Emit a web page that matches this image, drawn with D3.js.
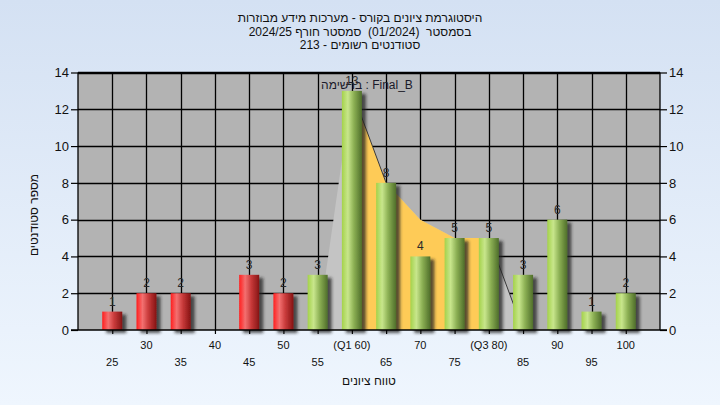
<!DOCTYPE html>
<html><head><meta charset="utf-8">
<script src="https://cdnjs.cloudflare.com/ajax/libs/d3/7.8.5/d3.min.js"></script>
<style>
html,body{margin:0;padding:0;}
body{width:720px;height:405px;overflow:hidden;}
text{font-family:"Liberation Sans",Arial,sans-serif;}
</style></head>
<body>
<svg id="chart" width="720" height="405"></svg>
<script>
const categories = [25,30,35,40,45,50,55,60,65,70,75,80,85,90,95,100];
const tickLabels = ["25","30","35","40","45","50","55","(Q1 60)","65","70","75","(Q3 80)","85","90","95","100"];
const counts = [1,2,2,0,3,2,3,13,8,4,5,5,3,6,1,2];
const passMark = 55;
const curveCats = [55,60,65,70,75,80,85];
const curveValues = [0,13,8,6,5,5,0];
const q1 = 60, q3 = 80;
const yTicks = [0,2,4,6,8,10,12,14];
const titleLines = ["היסטוגרמת ציונים בקורס - מערכות מידע מבוזרות","בסמסטר  (01/2024)  סמסטר חורף 2024/25","סטודנטים רשומים - 213"];
const seriesLabel = "ברשימה : Final_B";
const xTitle = "טווח ציונים";
const yTitle = "מספר סטודנטים";

const svg = d3.select("#chart");
const W = 720, H = 405;
const L = 78, R = 660, T = 72.5, B = 330;
const x = d3.scaleLinear().domain([20,105]).range([L,R]);
const y = d3.scaleLinear().domain([0,14]).range([B,T]);

const defs = svg.append("defs");
const bg = defs.append("linearGradient").attr("id","bg").attr("x1",0).attr("y1",0).attr("x2",0).attr("y2",1);
bg.append("stop").attr("offset","0%").attr("stop-color","#d4e1f3");
bg.append("stop").attr("offset","100%").attr("stop-color","#eff6fe");
function cyl(id, c0, c1, c2, c3){
  const g = defs.append("linearGradient").attr("id",id).attr("x1",0).attr("y1",0).attr("x2",1).attr("y2",0);
  g.append("stop").attr("offset","0%").attr("stop-color",c0);
  g.append("stop").attr("offset","30%").attr("stop-color",c1);
  g.append("stop").attr("offset","60%").attr("stop-color",c2);
  g.append("stop").attr("offset","100%").attr("stop-color",c3);
}
cyl("red","#ff1e1e","#f37070","#c83a3a","#851414");
cyl("green","#a4d24a","#c8e68c","#8cb054","#4f6e2a");
const f = defs.append("filter").attr("id","sh").attr("x","-50%").attr("y","-50%").attr("width","200%").attr("height","200%");
f.append("feDropShadow").attr("dx",4).attr("dy",3).attr("stdDeviation",1.8).attr("flood-color","#202020").attr("flood-opacity",0.75);

svg.append("rect").attr("width",W).attr("height",H).attr("fill","url(#bg)");
svg.append("rect").attr("x",L).attr("y",T).attr("width",R-L).attr("height",B-T).attr("fill","#b3b3b3");

// gridlines
svg.append("g").selectAll("line.h").data(yTicks.filter(v=>v>0)).join("line")
  .attr("x1",L).attr("x2",R).attr("y1",d=>Math.round(y(d))+0.5).attr("y2",d=>Math.round(y(d))+0.5)
  .attr("stroke","#000").attr("stroke-width",1.3);
svg.append("g").selectAll("line.v").data(categories).join("line")
  .attr("x1",d=>Math.round(x(d))+0.5).attr("x2",d=>Math.round(x(d))+0.5).attr("y1",T).attr("y2",B)
  .attr("stroke","#000").attr("stroke-width",1.3);

// curve area
const pts = curveCats.map((c,i)=>({c, v:curveValues[i]}));
const area = d3.area().x(d=>x(d.c)).y0(y(0)).y1(d=>y(d.v));
svg.append("path").datum(pts).attr("d",area).attr("fill","#c4c4c4");
svg.append("path").datum(pts.filter(d=>d.c>=q1 && d.c<=q3)).attr("d",area).attr("fill","#fecb57");
const line = d3.line().x(d=>x(d.c)).y(d=>y(d.v));
svg.append("path").datum(pts.filter(d=>d.c>=60 && d.c<=65)).attr("d",line).attr("fill","none").attr("stroke","#3a3a3a").attr("stroke-width",1);
svg.append("path").datum(pts.filter(d=>d.c>=80 && d.c<=85)).attr("d",line).attr("fill","none").attr("stroke","#3a3a3a").attr("stroke-width",1);

// bars
const bw = 20;
const bars = categories.map((c,i)=>({c, v:counts[i]}));
svg.append("g").selectAll("rect").data(bars.filter(d=>d.v>0)).join("rect")
  .attr("x",d=>x(d.c)-bw/2).attr("width",bw)
  .attr("y",d=>y(d.v)).attr("height",d=>y(0)-y(d.v))
  .attr("fill",d=>d.c>=passMark?"url(#green)":"url(#red)")
  .attr("filter","url(#sh)");

// series label
svg.append("text").attr("x",367).attr("y",89).attr("text-anchor","middle")
  .attr("font-size",12).attr("fill","#1a1a2a").text(seriesLabel);

// value labels
svg.append("g").selectAll("text").data(bars.filter(d=>d.v>0)).join("text")
  .attr("x",d=>x(d.c)).attr("y",d=>y(d.v)-6).attr("text-anchor","middle")
  .attr("font-size",12).attr("fill","#2a2a2a").text(d=>d.v);

// axes
const ax = svg.append("g").attr("transform",`translate(${L},0)`)
  .call(d3.axisLeft(y).tickValues(yTicks).tickSize(7).tickPadding(2).tickFormat(d3.format("d")));
const axr = svg.append("g").attr("transform",`translate(${R},0)`)
  .call(d3.axisRight(y).tickValues(yTicks).tickSize(7).tickPadding(2).tickFormat(d3.format("d")));
[ax,axr].forEach(a=>{a.select(".domain").attr("stroke","#000").attr("stroke-width",1.3).attr("d",`M0,${T}V${B}`);
  a.selectAll("line").attr("stroke","#000").attr("stroke-width",1.2);
  a.selectAll("text").attr("font-size",13).attr("fill","#111").attr("font-family","Liberation Sans, Arial, sans-serif");});
svg.append("line").attr("x1",L).attr("x2",R).attr("y1",T).attr("y2",T).attr("stroke","#000").attr("stroke-width",1.3);

const axb = svg.append("g").attr("transform",`translate(0,${B})`)
  .call(d3.axisBottom(x).tickValues(categories).tickSize(4).tickFormat(""));
axb.select(".domain").attr("stroke","#000").attr("stroke-width",1.3).attr("d",`M${L-7},0H${R+7}`);
axb.selectAll("line").attr("stroke","#000").attr("stroke-width",1.2);
svg.append("g").selectAll("text").data(categories).join("text")
  .attr("x",d=>x(d)).attr("y",(d,i)=> i%2===1 ? 349 : 366).attr("text-anchor","middle")
  .attr("font-size",11).attr("fill","#111").text((d,i)=>tickLabels[i]);

// titles
svg.append("g").selectAll("text").data(titleLines).join("text")
  .attr("x",360).attr("y",(d,i)=>22+i*13.5).attr("text-anchor","middle").attr("direction","rtl")
  .style("white-space","pre")
  .attr("font-size",12).attr("fill","#111").text(d=>d);
svg.append("text").attr("x",369).attr("y",385).attr("text-anchor","middle").attr("direction","rtl")
  .attr("font-size",12).attr("fill","#111").text(xTitle);
svg.append("text").attr("transform","translate(38,215) rotate(-90)").attr("text-anchor","middle").attr("direction","rtl")
  .attr("font-size",12).attr("fill","#111").text(yTitle);
</script>
</body></html>
